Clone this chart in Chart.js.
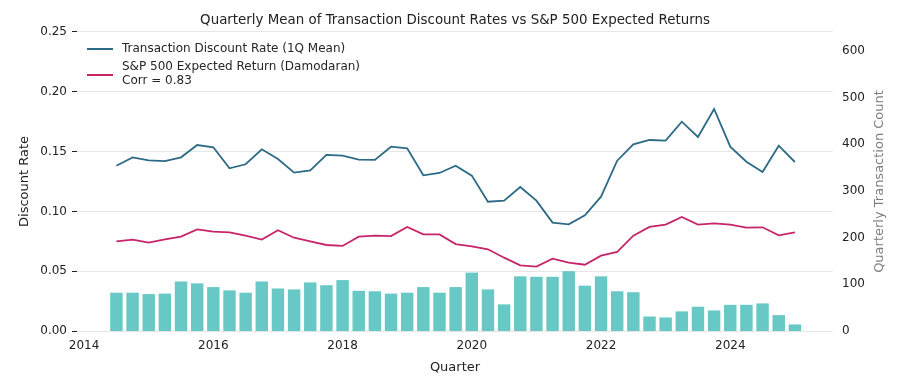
<!DOCTYPE html>
<html>
<head>
<meta charset="utf-8">
<script src="https://cdn.jsdelivr.net/npm/chart.js@4.4.1/dist/chart.umd.min.js"></script>
<style>
  html, body { margin: 0; padding: 0; background: #ffffff; }
  #wrap { width: 903px; height: 388px; }
</style>
</head>
<body>
<div id="wrap"><canvas id="discountChart" width="903" height="388"></canvas></div>
<script>
// Quarters shown on the chart
const quarters = [
  '2014Q3', '2014Q4',
  '2015Q1', '2015Q2', '2015Q3', '2015Q4',
  '2016Q1', '2016Q2', '2016Q3', '2016Q4',
  '2017Q1', '2017Q2', '2017Q3', '2017Q4',
  '2018Q1', '2018Q2', '2018Q3', '2018Q4',
  '2019Q1', '2019Q2', '2019Q3', '2019Q4',
  '2020Q1', '2020Q2', '2020Q3', '2020Q4',
  '2021Q1', '2021Q2', '2021Q3', '2021Q4',
  '2022Q1', '2022Q2', '2022Q3', '2022Q4',
  '2023Q1', '2023Q2', '2023Q3', '2023Q4',
  '2024Q1', '2024Q2', '2024Q3', '2024Q4',
  '2025Q1'
];

// Transaction discount rate, 1Q mean
const discountRate = [
  0.1382, 0.1452, 0.1427, 0.1421, 0.1452, 0.1555, 0.1536, 0.1360, 0.1394, 0.1519,
  0.1438, 0.1324, 0.1343, 0.1472, 0.1466, 0.1433, 0.1430, 0.1541, 0.1528, 0.1302,
  0.1321, 0.1382, 0.1299, 0.1081, 0.1090, 0.1204, 0.1090, 0.0906, 0.0892, 0.0967,
  0.1123, 0.1424, 0.1561, 0.1597, 0.1591, 0.1750, 0.1622, 0.1856, 0.1541, 0.1415,
  0.1329, 0.1549, 0.1413
];

// S&P 500 expected return (Damodaran)
const spExpected = [
  0.0750, 0.0764, 0.0739, 0.0767, 0.0789, 0.0850, 0.0831, 0.0825, 0.0797, 0.0764,
  0.0842, 0.0780, 0.0750, 0.0719, 0.0711, 0.0789, 0.0797, 0.0794, 0.0870, 0.0808,
  0.0808, 0.0727, 0.0708, 0.0683, 0.0613, 0.0549, 0.0538, 0.0605, 0.0571, 0.0554,
  0.0630, 0.0661, 0.0797, 0.0870, 0.0889, 0.0953, 0.0889, 0.0900, 0.0889, 0.0864,
  0.0867, 0.0800, 0.0825
];

// Quarterly transaction count
const txCount = [
  82, 82, 79, 80, 106, 102, 94, 87, 82, 106,
  91, 89, 104, 98, 109, 86, 85, 80, 82, 94,
  82, 94, 125, 89, 57, 117, 116, 116, 128, 97,
  117, 85, 83, 31, 29, 42, 52, 44, 56, 56,
  59, 34, 14
];

const xTicks = [2014, 2016, 2018, 2020, 2022, 2024];
const rateTicks = [0, 0.05, 0.10, 0.15, 0.20, 0.25];
const countTicks = [0, 100, 200, 300, 400, 500, 600];

const corrText = 'Corr = 0.83';

// quarter label -> decimal year (start of quarter)
function quarterToYear(q) {
  const year = parseInt(q.slice(0, 4), 10);
  const qn = parseInt(q.slice(5), 10);
  return year + (qn - 1) / 4;
}

const xs = quarters.map(quarterToYear);
const toPoints = arr => arr.map((v, i) => ({ x: xs[i], y: v }));

const FONT = "'DejaVu Sans', sans-serif";
const BLUE = '#2c6a85';
const PINK = '#c8246b';
const TEAL = '#67c8c5';

// legend drawn inside the plot area, top-left, plus right axis title reading bottom-to-top
const overlayPlugin = {
  id: 'overlay',
  afterDraw(chart) {
    const ctx = chart.ctx;
    const area = chart.chartArea;
    ctx.save();
    ctx.font = '12px ' + FONT;
    ctx.fillStyle = '#262626';
    ctx.textBaseline = 'middle';
    ctx.textAlign = 'left';
    ctx.lineWidth = 2;

    const x0 = area.left + 10;
    const x1 = area.left + 36;
    const tx = area.left + 45;

    ctx.strokeStyle = BLUE;
    ctx.beginPath();
    ctx.moveTo(x0, area.top + 17);
    ctx.lineTo(x1, area.top + 17);
    ctx.stroke();
    ctx.fillText(chart.data.datasets[0].label, tx, area.top + 17);

    ctx.strokeStyle = PINK;
    ctx.beginPath();
    ctx.moveTo(x0, area.top + 43);
    ctx.lineTo(x1, area.top + 43);
    ctx.stroke();
    ctx.fillText(chart.data.datasets[1].label, tx, area.top + 35);
    ctx.fillText(corrText, tx, area.top + 49);

    // right axis title
    ctx.font = '13px ' + FONT;
    ctx.fillStyle = '#808080';
    ctx.textAlign = 'center';
    ctx.translate(880, (area.top + area.bottom) / 2);
    ctx.rotate(-Math.PI / 2);
    ctx.fillText('Quarterly Transaction Count', 0, 0);
    ctx.restore();
  }
};

const ctx = document.getElementById('discountChart');

new Chart(ctx, {
  data: {
    datasets: [
      {
        type: 'line',
        label: 'Transaction Discount Rate (1Q Mean)',
        data: toPoints(discountRate),
        borderColor: BLUE,
        borderWidth: 1.8,
        pointRadius: 0,
        tension: 0,
        yAxisID: 'y',
        order: 0
      },
      {
        type: 'line',
        label: 'S&P 500 Expected Return (Damodaran)',
        data: toPoints(spExpected),
        borderColor: PINK,
        borderWidth: 1.8,
        pointRadius: 0,
        tension: 0,
        yAxisID: 'y',
        order: 0
      },
      {
        type: 'bar',
        label: 'Quarterly Transaction Count',
        data: toPoints(txCount),
        backgroundColor: TEAL,
        borderWidth: 0,
        barPercentage: 0.77,
        categoryPercentage: 1,
        yAxisID: 'y1',
        order: 1
      }
    ]
  },
  plugins: [overlayPlugin],
  options: {
    responsive: false,
    animation: false,
    layout: { padding: 0 },
    plugins: {
      legend: { display: false },
      tooltip: { enabled: false },
      title: {
        display: true,
        text: 'Quarterly Mean of Transaction Discount Rates vs S&P 500 Expected Returns',
        fullSize: false,
        color: '#222222',
        font: { family: FONT, size: 13.4, weight: 'normal', lineHeight: 1.2 },
        padding: { top: 12.5, bottom: 3.4 }
      }
    },
    scales: {
      x: {
        type: 'linear',
        offset: false,
        min: 2013.89,
        max: 2025.59,
        afterBuildTicks: s => { s.ticks = xTicks.map(v => ({ value: v })); },
        afterFit: s => { s.height = 57; },
        grid: { display: false, drawTicks: false, offset: false },
        border: { display: false },
        ticks: {
          color: '#222222',
          font: { family: FONT, size: 12 },
          padding: 8,
          maxRotation: 0,
          callback: v => String(v)
        },
        title: {
          display: true,
          text: 'Quarter',
          color: '#222222',
          font: { family: FONT, size: 13 },
          padding: { top: 0, bottom: 13 }
        }
      },
      y: {
        position: 'left',
        min: 0,
        max: 0.25,
        afterBuildTicks: s => { s.ticks = rateTicks.map(v => ({ value: v })); },
        afterFit: s => { s.width = 77; },
        grid: {
          color: '#e6e6e6',
          tickColor: '#222222',
          tickLength: 5,
          lineWidth: 1
        },
        border: { display: false },
        ticks: {
          color: '#222222',
          font: { family: FONT, size: 12 },
          padding: 5,
          callback: v => v.toFixed(2)
        },
        title: {
          display: true,
          text: 'Discount Rate',
          color: '#222222',
          font: { family: FONT, size: 13 },
          padding: { top: 17, bottom: 0 }
        }
      },
      y1: {
        position: 'right',
        min: 0,
        max: 640,
        afterBuildTicks: s => { s.ticks = countTicks.map(v => ({ value: v })); },
        afterFit: s => { s.width = 70; },
        grid: { display: false, drawTicks: false },
        border: { display: false },
        ticks: {
          color: '#222222',
          font: { family: FONT, size: 12 },
          padding: 9,
          callback: v => String(v)
        }
      }
    }
  }
});
</script>
</body>
</html>
